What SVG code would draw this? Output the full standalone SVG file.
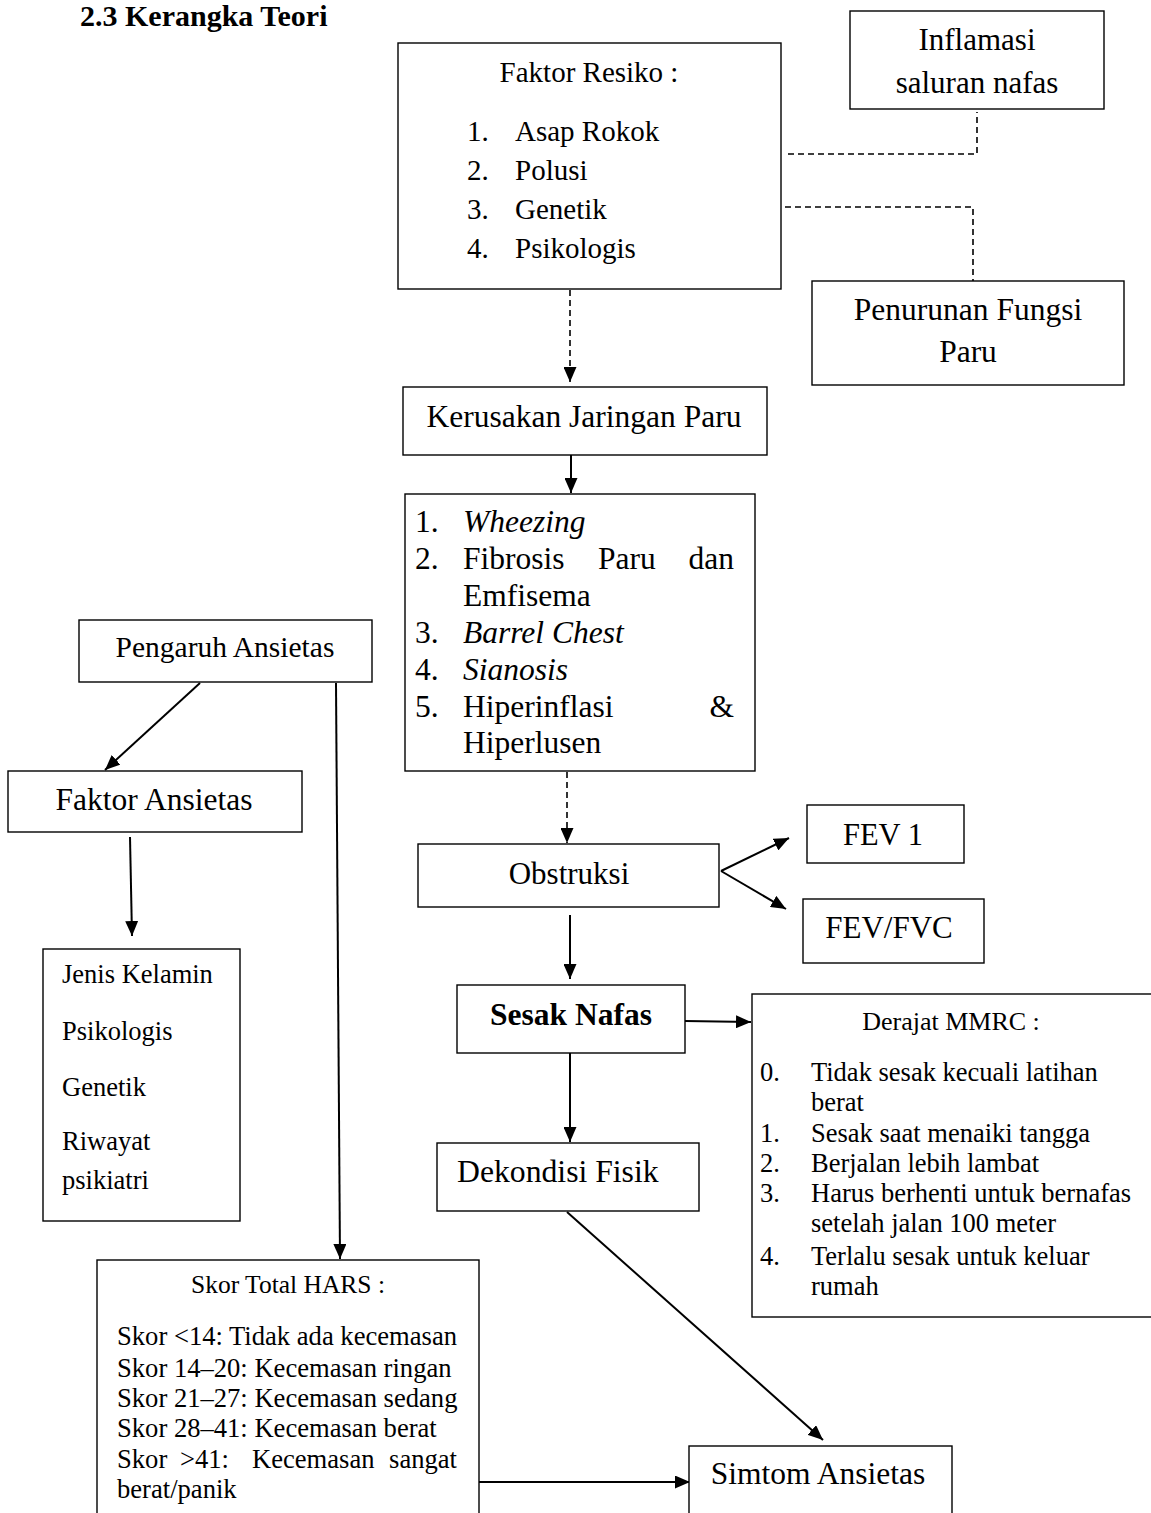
<svg xmlns="http://www.w3.org/2000/svg" width="1151" height="1513" viewBox="0 0 1151 1513">
<style>
.box{fill:#fff;stroke:#000;stroke-width:1.4}
text{font-family:"Liberation Serif","Times New Roman",serif;fill:#000}
.c{text-anchor:middle}
.e{text-anchor:end}
.it{font-style:italic}
.b{font-weight:bold}
.ln{fill:none;stroke:#000;stroke-width:2}
.ds{fill:none;stroke:#000;stroke-width:1.6;stroke-dasharray:6 4}
</style>
<defs>
<marker id="ah" viewBox="0 0 15 13" refX="15" refY="6.5" markerWidth="15" markerHeight="13" orient="auto" markerUnits="userSpaceOnUse"><path d="M0,0 L15,6.5 L0,13 z" fill="#000"/></marker>
</defs>
<rect width="1151" height="1513" fill="#fff"/>
<text x="80" y="26" class="b" font-size="30">2.3 Kerangka Teori</text>

<g id="connectors">
<path class="ds" d="M570,290 V382" marker-end="url(#ah)"/>
<path class="ds" d="M788,154 H977 V112"/>
<path class="ds" d="M785,207 H973 V281"/>
<path class="ln" d="M571,455 V493" marker-end="url(#ah)"/>
<path class="ds" d="M567,772 V843" marker-end="url(#ah)"/>
<path class="ln" d="M721,871 L789,838" marker-end="url(#ah)"/>
<path class="ln" d="M721,871 L786,909" marker-end="url(#ah)"/>
<path class="ln" d="M570,915 V979" marker-end="url(#ah)"/>
<path class="ln" d="M685,1021 L751,1022" marker-end="url(#ah)"/>
<path class="ln" d="M570,1053 V1142" marker-end="url(#ah)"/>
<path class="ln" d="M567,1212 L823,1440" marker-end="url(#ah)"/>
<path class="ln" d="M200,683 L105,770" marker-end="url(#ah)"/>
<path class="ln" d="M130,837 L132,936" marker-end="url(#ah)"/>
<path class="ln" d="M336,683 L340,1259" marker-end="url(#ah)"/>
<path class="ln" d="M479,1482 L690,1482" marker-end="url(#ah)"/>
</g>

<g id="faktor-resiko">
<rect class="box" x="398" y="43" width="383" height="246"/>
<text x="589" y="82" class="c" font-size="29">Faktor Resiko :</text>
<g font-size="29">
<text x="467" y="141">1.</text><text x="515" y="141">Asap Rokok</text>
<text x="467" y="180">2.</text><text x="515" y="180">Polusi</text>
<text x="467" y="219">3.</text><text x="515" y="219">Genetik</text>
<text x="467" y="258">4.</text><text x="515" y="258">Psikologis</text>
</g>
</g>

<g id="inflamasi">
<rect class="box" x="850" y="11" width="254" height="98"/>
<text x="977" y="50" class="c" font-size="31">Inflamasi</text>
<text x="977" y="93" class="c" font-size="31">saluran nafas</text>
</g>

<g id="penurunan">
<rect class="box" x="812" y="281" width="312" height="104"/>
<text x="968" y="320" class="c" font-size="31.5">Penurunan Fungsi</text>
<text x="968" y="362" class="c" font-size="31.5">Paru</text>
</g>

<g id="kerusakan">
<rect class="box" x="403" y="387" width="364" height="68"/>
<text x="584" y="427" class="c" font-size="31.5">Kerusakan Jaringan Paru</text>
</g>

<g id="gejala" font-size="31.5">
<rect class="box" x="405" y="494" width="350" height="277"/>
<text x="415" y="532">1.</text><text x="463" y="532" class="it">Wheezing</text>
<text x="415" y="569">2.</text><text x="463" y="569">Fibrosis</text><text x="598" y="569">Paru</text><text x="734" y="569" class="e">dan</text>
<text x="463" y="606">Emfisema</text>
<text x="415" y="643">3.</text><text x="463" y="643" class="it">Barrel Chest</text>
<text x="415" y="680">4.</text><text x="463" y="680" class="it">Sianosis</text>
<text x="415" y="717">5.</text><text x="463" y="717">Hiperinflasi</text><text x="734" y="717" class="e">&amp;</text>
<text x="463" y="753">Hiperlusen</text>
</g>

<g id="obstruksi">
<rect class="box" x="418" y="844" width="301" height="63"/>
<text x="569" y="884" class="c" font-size="31">Obstruksi</text>
</g>

<g id="fev1">
<rect class="box" x="807" y="805" width="157" height="58"/>
<text x="883" y="845" class="c" font-size="30.5">FEV 1</text>
</g>

<g id="fevfvc">
<rect class="box" x="803" y="899" width="181" height="64"/>
<text x="889" y="938" class="c" font-size="31">FEV/FVC</text>
</g>

<g id="sesak">
<rect class="box" x="457" y="985" width="228" height="68"/>
<text x="571" y="1025" class="c b" font-size="31.5">Sesak Nafas</text>
</g>

<g id="mmrc" font-size="26.5">
<rect class="box" x="752" y="994" width="405" height="323"/>
<text x="951" y="1030" class="c" font-size="26">Derajat MMRC :</text>
<text x="760" y="1081">0.</text><text x="811" y="1081">Tidak sesak kecuali latihan</text>
<text x="811" y="1111">berat</text>
<text x="760" y="1142">1.</text><text x="811" y="1142">Sesak saat menaiki tangga</text>
<text x="760" y="1172">2.</text><text x="811" y="1172">Berjalan lebih lambat</text>
<text x="760" y="1202">3.</text><text x="811" y="1202">Harus berhenti untuk bernafas</text>
<text x="811" y="1232">setelah jalan 100 meter</text>
<text x="760" y="1265">4.</text><text x="811" y="1265">Terlalu sesak untuk keluar</text>
<text x="811" y="1295">rumah</text>
</g>

<g id="dekondisi">
<rect class="box" x="437" y="1143" width="262" height="68"/>
<text x="457" y="1182" font-size="31.7">Dekondisi Fisik</text>
</g>

<g id="pengaruh">
<rect class="box" x="79" y="620" width="293" height="62"/>
<text x="225" y="657" class="c" font-size="29.5">Pengaruh Ansietas</text>
</g>

<g id="faktor-ansietas">
<rect class="box" x="8" y="771" width="294" height="61"/>
<text x="154" y="810" class="c" font-size="31.5">Faktor Ansietas</text>
</g>

<g id="jenis" font-size="26.5">
<rect class="box" x="43" y="949" width="197" height="272"/>
<text x="62" y="983">Jenis Kelamin</text>
<text x="62" y="1040">Psikologis</text>
<text x="62" y="1096">Genetik</text>
<text x="62" y="1150">Riwayat</text>
<text x="62" y="1189">psikiatri</text>
</g>

<g id="hars" font-size="26.6">
<rect class="box" x="97" y="1260" width="382" height="270"/>
<text x="288" y="1293" class="c" font-size="25.5">Skor Total HARS :</text>
<text x="117" y="1345">Skor &lt;14: Tidak ada kecemasan</text>
<text x="117" y="1377">Skor 14–20: Kecemasan ringan</text>
<text x="117" y="1407">Skor 21–27: Kecemasan sedang</text>
<text x="117" y="1437">Skor 28–41: Kecemasan berat</text>
<text x="117" y="1468">Skor</text><text x="180" y="1468">&gt;41:</text><text x="252" y="1468">Kecemasan</text><text x="457" y="1468" class="e">sangat</text>
<text x="117" y="1498">berat/panik</text>
</g>

<g id="simtom">
<rect class="box" x="689" y="1446" width="263" height="90"/>
<text x="818" y="1484" class="c" font-size="31.5">Simtom Ansietas</text>
</g>
</svg>
